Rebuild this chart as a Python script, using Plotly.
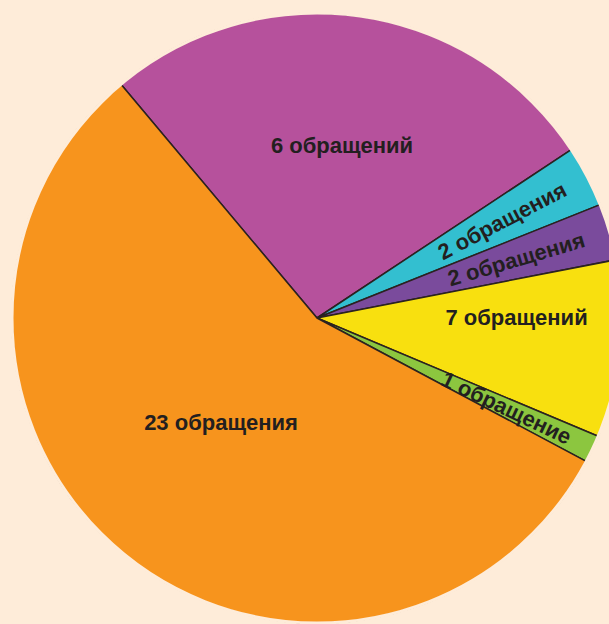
import plotly.graph_objects as go

# Slice labels (text shown on the chart)
labels = ["6 обращений", "2 обращения", "2 обращения", "7 обращений", "1 обращение", "23 обращения"]
# Slice sizes as drawn (share of the circle, %)
shares = [26.8, 3.25, 3.0, 9.4, 1.45, 56.1]
colors = ["#b6519c", "#33bfd0", "#7a4b9c", "#f8e00f", "#8cc63f", "#f7941d"]
horizontal = [True, False, False, True, False, True]

BG = "#feecd9"
W, H = 640, 640
dom_x = [12 / W, 622 / W]
dom_y = [1 - 623 / H, 1 - 13 / H]
FONT = dict(family="Liberation Sans, Arial, sans-serif", size=22, color="#231f20", weight="bold")
NB = "\u00a0"

# padding used only to nudge where the library places each label
pad_pre = ["", "", "", "<br>", "", ""]
pad_post = ["", NB * 3, NB * 4, "", NB * 10, "<br>" + NB]

txt = [p + l + q for p, l, q in zip(pad_pre, labels, pad_post)]
txt_h = [t if h else "" for t, h in zip(txt, horizontal)]
txt_r = [t if not h else "" for t, h in zip(txt, horizontal)]

fig = go.Figure()
fig.add_trace(go.Pie(
    labels=[str(i) for i in range(len(labels))], values=shares, sort=False,
    direction="clockwise", rotation=-40,
    marker=dict(colors=colors, line=dict(color="#2b2220", width=1.5)),
    text=txt_h, textinfo="text", textposition="inside",
    insidetextorientation="horizontal", textfont=FONT,
    domain=dict(x=dom_x, y=dom_y), hoverinfo="skip", showlegend=False,
))
fig.add_trace(go.Pie(
    labels=[str(i) for i in range(len(labels))], values=shares, sort=False,
    direction="clockwise", rotation=-40,
    marker=dict(colors=["rgba(0,0,0,0)"] * len(labels), line=dict(width=0)),
    text=txt_r, textinfo="text", textposition="inside",
    insidetextorientation="radial", textfont=FONT,
    domain=dict(x=dom_x, y=dom_y), hoverinfo="skip", showlegend=False,
))
fig.add_shape(type="circle", xref="paper", yref="paper",
              x0=dom_x[0], x1=dom_x[1], y0=dom_y[0], y1=dom_y[1],
              line=dict(color=BG, width=3), layer="above")
fig.update_layout(
    width=W, height=H, margin=dict(l=0, r=0, t=0, b=0),
    paper_bgcolor=BG, plot_bgcolor=BG,
    uniformtext=dict(minsize=22, mode="show"),
)
fig.write_html(
    "out.html",
    config={"displayModeBar": False},
    post_script=f"document.body.style.margin='0';document.body.style.background='{BG}';"
                "document.body.style.overflow='hidden';",
)
